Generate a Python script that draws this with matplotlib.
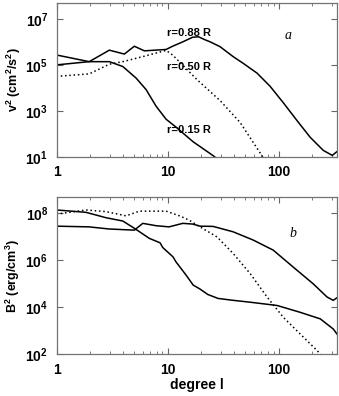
import numpy as np
import matplotlib.pyplot as plt
from matplotlib.ticker import LogLocator, NullFormatter, FixedLocator

# panel a: v^2 spectra (log10 values)
l_088 = [1.0, 1.97, 2.99, 4.08, 5.02, 6.18, 9.7, 11.1, 13.7, 16.8, 19.0, 21.5, 24.2, 29.7, 38.9, 47.9, 64, 83.8, 110, 147, 192, 252, 304, 334]
v_088 = [5.0, 5.14, 5.64, 5.47, 5.81, 5.61, 5.67, 5.81, 6.0, 6.2, 6.22, 6.1, 6.0, 5.79, 5.36, 5.07, 4.64, 4.07, 3.36, 2.57, 1.86, 1.29, 1.07, 1.23]
l_050 = [1.0, 1.97, 2.99, 3.95, 5.98, 9.7, 11.1, 13.0, 18.4, 29.7, 45, 68.7, 80]
v_050 = [4.5, 4.61, 5.03, 5.14, 5.36, 5.63, 5.43, 5.1, 4.36, 3.45, 2.5, 1.15, 0.7]
l_015 = [1.0, 1.97, 2.99, 3.95, 5.2, 6.4, 7.87, 9.7, 11.9, 17.0, 25.7, 30]
v_015 = [5.43, 5.14, 5.14, 4.93, 4.43, 3.93, 3.21, 2.64, 2.3, 1.66, 1.06, 0.8]

# panel b: B^2 spectra (log10 values)
lb_088 = [1.0, 1.96, 2.97, 5.02, 5.98, 7.87, 10.3, 13.7, 16.8, 19.6, 25.7, 38.9, 58.9, 89.3, 135, 204, 273, 310, 343]
b_088 = [7.46, 7.43, 7.34, 7.29, 7.58, 7.48, 7.43, 7.58, 7.55, 7.46, 7.45, 7.22, 6.87, 6.44, 5.72, 5.01, 4.44, 4.30, 4.44]
lb_015 = [1.0, 1.84, 2.79, 3.95, 5.02, 6.85, 8.56, 9.05, 11.2, 11.9, 14.7, 17.0, 19.6, 23, 28.5, 38.9, 55.4, 96.9, 156, 237, 310, 343]
b_015 = [8.15, 8.05, 7.82, 7.68, 7.37, 6.94, 6.75, 6.55, 6.15, 5.94, 5.37, 4.95, 4.78, 4.55, 4.38, 4.3, 4.22, 4.08, 3.79, 3.51, 3.08, 2.8]
lb_050 = [1.0, 1.84, 2.79, 4.23, 5.57, 9.7, 12.8, 15.6, 19.6, 27.9, 38.9, 55.4, 78.7, 110, 156, 222, 260]
b_050 = [7.97, 8.15, 8.08, 7.9, 8.1, 8.1, 7.9, 7.72, 7.43, 7.0, 6.3, 5.44, 4.44, 3.58, 2.87, 2.16, 1.8]

labels = ['r=0.88 R', 'r=0.50 R', 'r=0.15 R']

plt.rcParams['font.family'] = ['Liberation Sans', 'DejaVu Sans']
plt.rcParams['mathtext.fontset'] = 'custom'
plt.rcParams['mathtext.rm'] = 'Liberation Sans:bold'
plt.rcParams['mathtext.it'] = 'Liberation Sans:bold'
plt.rcParams['mathtext.bf'] = 'Liberation Sans:bold'

fig = plt.figure(figsize=(3.39, 3.96), dpi=100)
ax1 = fig.add_axes([0.1667, 0.6035, 0.826, 0.3896])
ax2 = fig.add_axes([0.1667, 0.1053, 0.826, 0.397])

dots = (0, (1, 1.8))
ax1.plot(l_088, 10**np.array(v_088), color='black', lw=1.1)
ax1.plot(l_050, 10**np.array(v_050), color='black', lw=1.1, ls=dots)
ax1.plot(l_015, 10**np.array(v_015), color='black', lw=1.1)

ax2.plot(lb_088, 10**np.array(b_088), color='black', lw=1.1)
ax2.plot(lb_050, 10**np.array(b_050), color='black', lw=1.1, ls=dots)
ax2.plot(lb_015, 10**np.array(b_015), color='black', lw=1.1)

for ax, yl, yt in [(ax1, (1e1, 5e7), [1e1, 1e3, 1e5, 1e7]),
                   (ax2, (1e2, 5e8), [1e2, 1e4, 1e6, 1e8])]:
    ax.set_xscale('log')
    ax.set_yscale('log')
    ax.set_xlim(1, 332)
    ax.set_ylim(*yl)
    ax.yaxis.set_major_locator(FixedLocator(yt))
    ax.yaxis.set_minor_locator(FixedLocator([]))
    ax.xaxis.set_major_locator(FixedLocator([1, 10, 100]))
    ax.xaxis.set_minor_locator(LogLocator(base=10, subs=np.arange(2, 10)))
    ax.xaxis.set_minor_formatter(NullFormatter())
    ax.set_xticklabels(['1', '10', '100'], fontsize=10, fontweight='bold')
    ax.set_yticklabels(['$10^{%d}$' % int(np.log10(t)) for t in yt], fontsize=10)
    ax.tick_params(which='both', direction='in', top=True, right=True, color='0.4')
    ax.tick_params(which='major', length=4, width=0.8, pad=6)
    ax.tick_params(which='minor', length=2.2, width=0.6)
    for s in ax.spines.values():
        s.set_color('0.45')
        s.set_linewidth(0.9)

ax1.set_ylabel('v$^2$ (cm$^2$/s$^2$)', fontsize=9, fontweight='bold', labelpad=2)
ax2.set_ylabel('B$^2$ (erg/cm$^3$)', fontsize=9, fontweight='bold', labelpad=2)
ax2.set_xlabel('degree l', fontsize=10, fontweight='bold', labelpad=1)

for lab, yv in zip(labels, [10**6.39, 10**4.89, 10**2.17]):
    ax1.text(9.9, yv, lab, fontsize=8, fontweight='bold', ha='left', va='center')

ax1.text(0.827, 0.79, 'a', transform=ax1.transAxes, fontsize=10, style='italic',
         family='Liberation Serif', ha='center', va='center')
ax2.text(0.845, 0.77, 'b', transform=ax2.transAxes, fontsize=10, style='italic',
         family='Liberation Serif', ha='center', va='center')

fig.savefig('out.png', dpi=100)
